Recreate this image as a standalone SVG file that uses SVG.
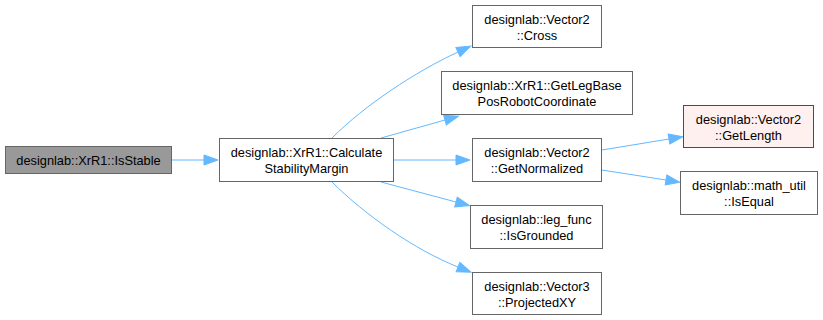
<svg xmlns="http://www.w3.org/2000/svg" width="823" height="320" viewBox="0 0 823 320">
  <style>
    .node rect { fill: #ffffff; stroke: #666666; stroke-width: 1; }
    .node.cur rect { fill: #999999; stroke: #666666; }
    .node.err rect { fill: #fff0f0; stroke: #ff0000; }
    .node text { font-family: "Liberation Sans", Arial, sans-serif; font-size: 12.8px; fill: #000000; text-anchor: middle; }
    .edges path { fill: none; stroke: #63b8ff; stroke-width: 1; marker-end: url(#arrow); }
  </style>
  <defs>
    <marker id="arrow" markerUnits="userSpaceOnUse" markerWidth="15" markerHeight="11" refX="0" refY="5" orient="auto" overflow="visible">
      <path d="M0,0 L14,5 L0,10 Z" fill="#63b8ff" stroke="#63b8ff" stroke-width="1"/>
    </marker>
  </defs>
  <rect width="823" height="320" fill="#ffffff"/>

  <g class="edges">
    <path d="M172,160 L204,160"/>
    <path d="M332,138 C365,105 415,72 458,52"/>
    <path d="M381,138 L445,120"/>
    <path d="M394,160 L456,160"/>
    <path d="M381,182 L456,202"/>
    <path d="M332,182 C365,215 415,250 458,267"/>
    <path d="M602,150 L669,139"/>
    <path d="M602,170 L666,180"/>
  </g>

  <g id="node-isstable" class="node cur">
    <rect x="5.5" y="146.5" width="166" height="27"/>
    <text x="88.5" y="164.5">designlab::XrR1::IsStable</text>
  </g>
  <g id="node-calcmargin" class="node">
    <rect x="219.5" y="138.5" width="174" height="43"/>
    <text x="306.5" y="157">designlab::XrR1::Calculate</text>
    <text x="306.5" y="172.5">StabilityMargin</text>
  </g>
  <g id="node-cross" class="node">
    <rect x="472.5" y="5.5" width="129" height="42"/>
    <text x="537" y="24">designlab::Vector2</text>
    <text x="537" y="39.5">::Cross</text>
  </g>
  <g id="node-leg-base" class="node">
    <rect x="441.5" y="71.5" width="191" height="43"/>
    <text x="537" y="90">designlab::XrR1::GetLegBase</text>
    <text x="537" y="105.5">PosRobotCoordinate</text>
  </g>
  <g id="node-normalized" class="node">
    <rect x="472.5" y="138.5" width="129" height="43"/>
    <text x="537" y="157">designlab::Vector2</text>
    <text x="537" y="172.5">::GetNormalized</text>
  </g>
  <g id="node-grounded" class="node">
    <rect x="470.5" y="205.5" width="132" height="43"/>
    <text x="536.5" y="224">designlab::leg_func</text>
    <text x="536.5" y="239.5">::IsGrounded</text>
  </g>
  <g id="node-projected" class="node">
    <rect x="472.5" y="272.5" width="129" height="42"/>
    <text x="537" y="291">designlab::Vector3</text>
    <text x="537" y="306.5">::ProjectedXY</text>
  </g>
  <g id="node-length" class="node err">
    <rect x="683.5" y="105.5" width="130" height="42"/>
    <text x="748.5" y="124">designlab::Vector2</text>
    <text x="748.5" y="139.5">::GetLength</text>
  </g>
  <g id="node-isequal" class="node">
    <rect x="680.5" y="171.5" width="137" height="43"/>
    <text x="749" y="190">designlab::math_util</text>
    <text x="749" y="205.5">::IsEqual</text>
  </g>
</svg>
